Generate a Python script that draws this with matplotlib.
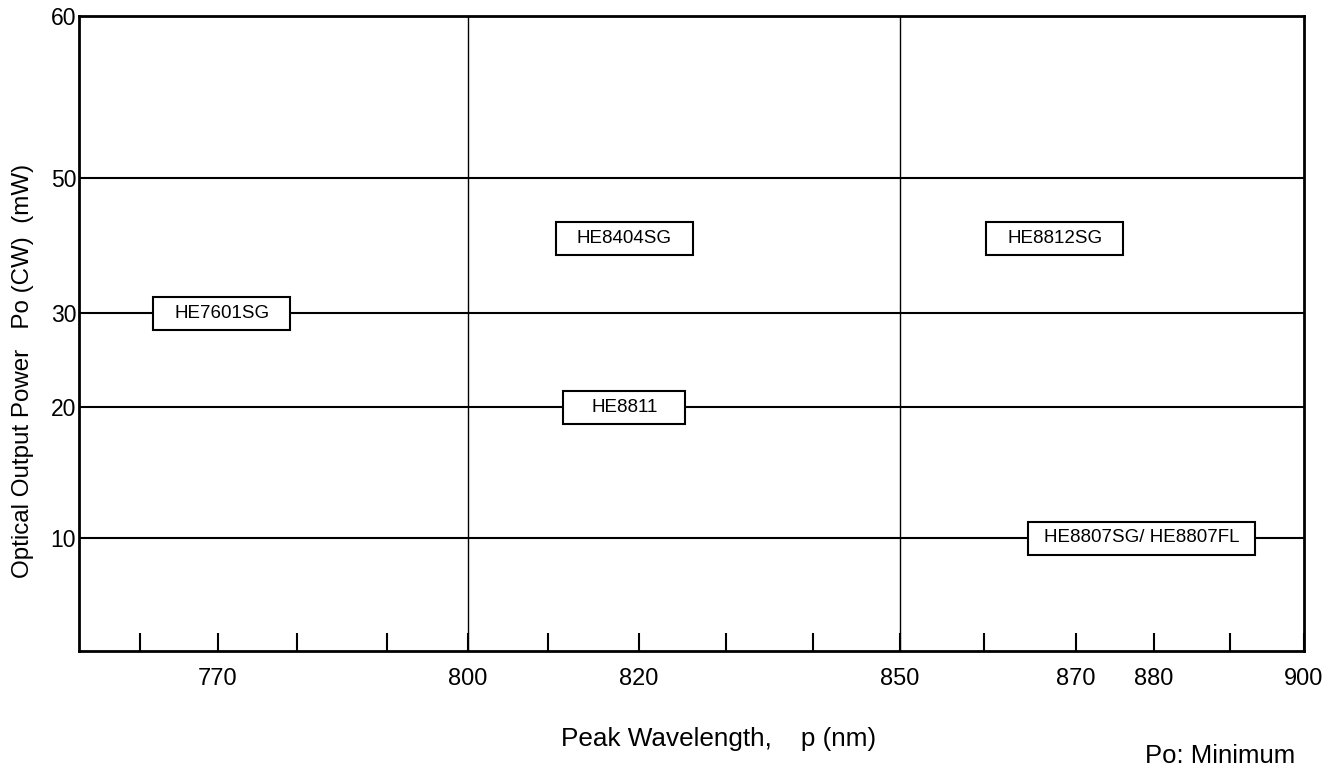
import numpy as np
import matplotlib
matplotlib.use("Agg")
import matplotlib.pyplot as plt
import matplotlib.transforms as mtransforms
from matplotlib.patches import Rectangle

plt.rcParams['font.family'] = ['Liberation Sans', 'DejaVu Sans']

# --- data ---
power_levels = [10, 20, 30, 50]          # horizontal rules (mW)
wl_dividers = [800, 850]                 # vertical rules (nm)
models = ['HE7601SG', 'HE8404SG', 'HE8811', 'HE8812SG', 'HE8807SG/ HE8807FL']
model_wl = [770.5, 818.4, 818.4, 867.7, 878.4]
model_po = [30, 41, 20, 41, 10]

x_labeled = [770, 800, 820, 850, 870, 880, 900]
x_minor = [760, 780, 790, 810, 830, 840, 860, 890]
y_labeled = [10, 20, 30, 50, 60]

# --- irregular axis scales (chart is not drawn to a linear scale) ---
x_knots = [760, 770, 780, 790, 800, 810, 820, 830, 840, 850, 860, 870, 880, 890, 900]
x_pos = [140, 218, 297, 387, 468, 548, 639, 726, 813, 900, 984, 1076, 1154, 1230, 1304]
y_knots = [0, 10, 20, 30, 50, 60]
y_pos = [0, 113, 244, 338, 473, 635]


def make_scale(knots, pos):
    k = np.asarray(knots, float)
    p = np.asarray(pos, float)

    def interp(v, a, b):
        v = np.asarray(v, float)
        out = np.interp(v, a, b)
        lo = v < a[0]
        hi = v > a[-1]
        out = np.where(lo, b[0] + (v - a[0]) * (b[1] - b[0]) / (a[1] - a[0]), out)
        out = np.where(hi, b[-1] + (v - a[-1]) * (b[-1] - b[-2]) / (a[-1] - a[-2]), out)
        return out

    return (lambda v: interp(v, k, p)), (lambda v: interp(v, p, k))


fig = plt.figure(figsize=(13.37, 7.66), dpi=100)
ax = fig.add_axes([79 / 1337, 1 - 651 / 766, (1304 - 79) / 1337, (651 - 16) / 766])

ax.set_xscale('function', functions=make_scale(x_knots, x_pos))
ax.set_yscale('function', functions=make_scale(y_knots, y_pos))
ax.set_xlim(752.2, 900)
ax.set_ylim(0, 60)

for p in power_levels:
    ax.axhline(p, color='black', lw=1.5, zorder=1)
for w in wl_dividers:
    ax.axvline(w, color='black', lw=1.0, zorder=1)

# model boxes (fixed size in pixels, centred on their data point)
box_w = [137, 137, 122, 137, 227]
box_h = 33
for name, x, y, bw in zip(models, model_wl, model_po, box_w):
    tr = fig.dpi_scale_trans + mtransforms.ScaledTranslation(x, y, ax.transData)
    ax.add_patch(Rectangle((-bw / 200, -box_h / 200), bw / 100, box_h / 100,
                           transform=tr, facecolor='white', edgecolor='black',
                           lw=1.5, zorder=3, clip_on=False))
    ax.text(x, y, name, ha='center', va='center', fontsize=13.5, zorder=4)

ax.set_xticks(x_labeled)
ax.set_xticklabels([str(v) for v in x_labeled])
ax.set_xticks(x_minor, minor=True)
ax.tick_params(axis='x', which='both', direction='in', length=13, width=1.5,
               labelsize=17, pad=12)
ax.set_yticks(y_labeled)
ax.set_yticklabels([str(v) for v in y_labeled])
ax.yaxis.set_minor_locator(matplotlib.ticker.NullLocator())
ax.tick_params(axis='y', which='both', length=0, labelsize=16.5, pad=2)

for s in ax.spines.values():
    s.set_linewidth(2)

fig.text(719 / 1337, 1 - 739 / 766, 'Peak Wavelength,    p (nm)', ha='center', va='center', fontsize=18.8)
fig.text(23 / 1337, 1 - 371 / 766, 'Optical Output Power   Po (CW)  (mW)', ha='center', va='center',
         rotation=90, fontsize=17.4)
fig.text(1295 / 1337, 1 - 763 / 766, 'Po: Minimum', ha='right', va='baseline', fontsize=18.5)

fig.savefig('out.png', dpi=100)
